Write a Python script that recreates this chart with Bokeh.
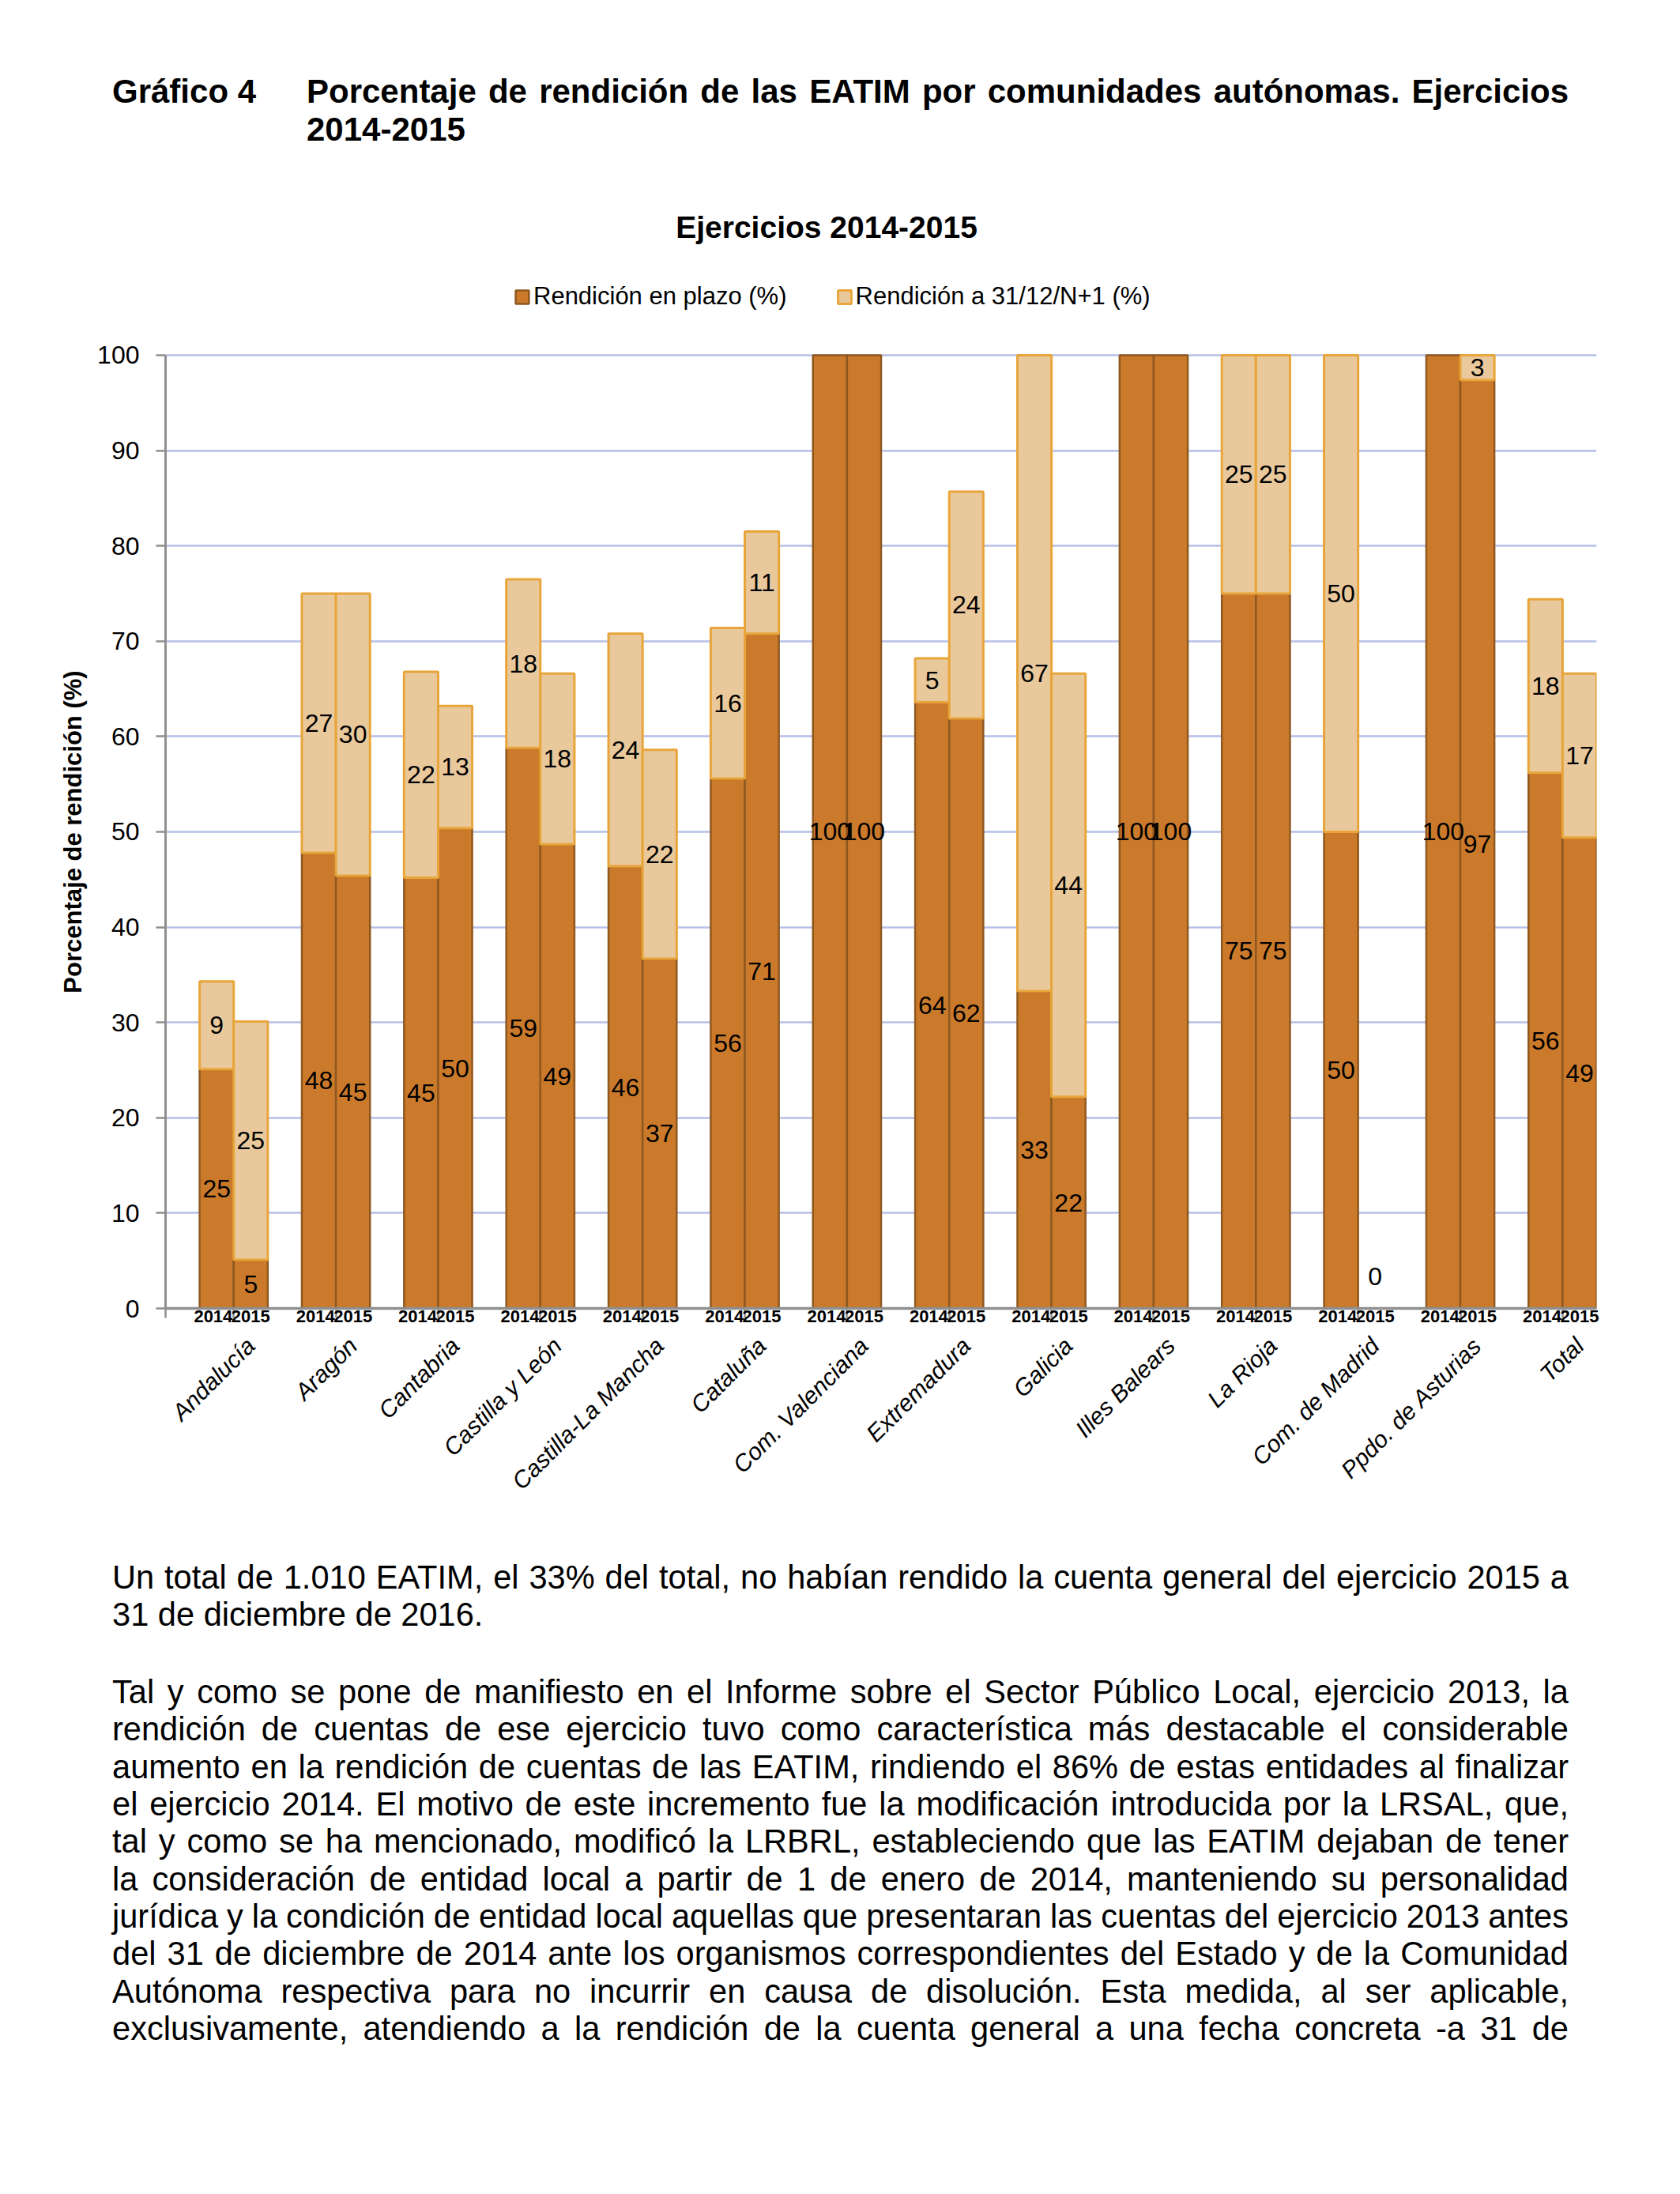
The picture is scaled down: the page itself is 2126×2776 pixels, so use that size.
import math
from bokeh.plotting import figure
from bokeh.models import (ColumnDataSource, LabelSet, Label, FixedTicker, Legend, LegendItem,
                          Div, Range1d, LinearAxis)
from bokeh.layouts import column, row
from bokeh.core.properties import value
from bokeh.embed import file_html
from bokeh.resources import INLINE

# ---------------- data ----------------
communities = ["Andalucía", "Aragón", "Cantabria", "Castilla y León", "Castilla-La Mancha",
               "Cataluña", "Com. Valenciana", "Extremadura", "Galicia", "Illes Balears",
               "La Rioja", "Com. de Madrid", "Ppdo. de Asturias", "Total"]
years = ["2014", "2015"]
plazo_2014 = [25.1, 47.8, 45.2, 58.8, 46.4, 55.6, 100, 63.6, 33.3, 100, 75, 50, 100, 56.2]
extra_2014 = [9.2, 27.2, 21.6, 17.7, 24.4, 15.8, 0, 4.6, 66.7, 0, 25, 50, 0, 18.2]
plazo_2015 = [5.1, 45.4, 50.4, 48.7, 36.7, 70.8, 100, 61.9, 22.2, 100, 75, 0, 97.4, 49.4]
extra_2015 = [25.0, 29.6, 12.8, 17.9, 21.9, 10.7, 0, 23.8, 44.4, 0, 25, 0, 2.6, 17.2]
y_ticks = [0, 10, 20, 30, 40, 50, 60, 70, 80, 90, 100]
series_names = ["Rendición en plazo (%)", "Rendición a 31/12/N+1 (%)"]

chart_title = "Ejercicios 2014-2015"
y_title = "Porcentaje de rendición (%)"
heading_label = "Gráfico 4"
heading_lines = ["Porcentaje de rendición de las EATIM por comunidades autónomas. Ejercicios",
                 "2014-2015"]
paragraphs = [
    ["Un total de 1.010 EATIM, el 33% del total, no habían rendido la cuenta general del ejercicio 2015 a",
     "31 de diciembre de 2016."],
    ["Tal y como se pone de manifiesto en el Informe sobre el Sector Público Local, ejercicio 2013, la",
     "rendición de cuentas de ese ejercicio tuvo como característica más destacable el considerable",
     "aumento en la rendición de cuentas de las EATIM, rindiendo el 86% de estas entidades al finalizar",
     "el ejercicio 2014. El motivo de este incremento fue la modificación introducida por la LRSAL, que,",
     "tal y como se ha mencionado, modificó la LRBRL, estableciendo que las EATIM dejaban de tener",
     "la consideración de entidad local a partir de 1 de enero de 2014, manteniendo su personalidad",
     "jurídica y la condición de entidad local aquellas que presentaran las cuentas del ejercicio 2013 antes",
     "del 31 de diciembre de 2014 ante los organismos correspondientes del Estado y de la Comunidad",
     "Autónoma respectiva para no incurrir en causa de disolución. Esta medida, al ser aplicable,",
     "exclusivamente, atendiendo a la rendición de la cuenta general a una fecha concreta -a 31 de"],
]
paragraph_continues = [False, True]

# ---------------- styles ----------------
SANS = "Liberation Sans"
DARK_FILL = "#CB7A2B"
DARK_LINE = "#8E5820"
LIGHT_FILL = "#E9C99C"
LIGHT_LINE = "#E8A53A"
GRID = "#B7C0E8"
AXIS = "#8F8F8F"

# ---------------- derived sources ----------------
n = len(communities)
plazo = [plazo_2014, plazo_2015]
extra = [extra_2014, extra_2015]
SLOT = 20               # each category slot (blank, 2014, 2015) is 20 x-units wide
GROUP = 3 * SLOT
YEAR_LABEL_SHIFT = [-2, 0]   # 2014 labels sit slightly left of their bar, as in the original

dark = dict(x=[], top=[])
light = dict(x=[], bottom=[], top=[])
dark_lab = dict(x=[], y=[], text=[], dy=[])
light_lab = dict(x=[], y=[], text=[])
year_ticks, year_over = [], {}
for i in range(n):
    for k in range(2):
        xc = GROUP * i + SLOT + SLOT // 2 + SLOT * k
        pv, ev = plazo[k][i], extra[k][i]
        if pv > 0:
            dark["x"].append(xc); dark["top"].append(pv)
        dark_lab["x"].append(xc); dark_lab["y"].append(pv / 2)
        dark_lab["text"].append(f"{pv:.0f}"); dark_lab["dy"].append(0 if pv > 0 else 41)
        if ev > 0:
            light["x"].append(xc); light["bottom"].append(pv); light["top"].append(pv + ev)
            light_lab["x"].append(xc); light_lab["y"].append(pv + ev / 2)
            light_lab["text"].append(f"{ev:.0f}")
        t = xc + YEAR_LABEL_SHIFT[k]
        year_ticks.append(t); year_over[t] = years[k]
cat_ticks = [GROUP * i + 2 * SLOT + SLOT // 2 for i in range(n)]
cat_over = {t: c for t, c in zip(cat_ticks, communities)}
boundary_ticks = [0] + [GROUP * i + 2 * SLOT for i in range(n)]

# ---------------- geometry ----------------
W = 2120
YLAB_W = 120
FIG_H = 1750
TOP_BORDER = 40
BOTTOM_BORDER = 295
Y_TOP = 117.33   # frame extends above 100 to hold the chart title and legend
y_range = Range1d(0, Y_TOP)

# ---------------- main figure ----------------
p = figure(width=W - YLAB_W, height=FIG_H, output_backend="svg", toolbar_location=None,
           x_range=Range1d(0, GROUP * n), y_range=y_range,
           min_border_left=209 - YLAB_W, min_border_right=100, min_border_top=TOP_BORDER,
           min_border_bottom=BOTTOM_BORDER)
p.outline_line_color = None
p.background_fill_color = "white"
p.xgrid.grid_line_color = None
p.ygrid.grid_line_color = GRID
p.ygrid.grid_line_width = 2.5

r_dark = p.vbar(x="x", top="top", bottom=0, width=SLOT, source=ColumnDataSource(dark),
                fill_color=DARK_FILL, line_color=DARK_LINE, line_width=2.5)
r_light = p.vbar(x="x", top="top", bottom="bottom", width=SLOT, source=ColumnDataSource(light),
                 fill_color=LIGHT_FILL, line_color=LIGHT_LINE, line_width=3)

lab_kw = dict(text_font=value(SANS), text_font_size="32px", text_color="black",
              text_align="center", text_baseline="middle")
p.add_layout(LabelSet(x="x", y="y", text="text", y_offset="dy",
                      source=ColumnDataSource(dark_lab), **lab_kw))
p.add_layout(LabelSet(x="x", y="y", text="text", source=ColumnDataSource(light_lab), **lab_kw))

# chart title (inside the frame, above the 100 gridline)
p.add_layout(Label(x=388, y=113.45, text=chart_title, text_align="center",
                   text_baseline="middle", text_font=SANS, text_font_style="bold",
                   text_font_size="39px", text_color="black"))

# y axis
yax = p.yaxis[0]
yax.bounds = (0, 100)
yax.ticker = FixedTicker(ticks=y_ticks)
yax.axis_line_color = AXIS
yax.axis_line_width = 3
yax.major_tick_line_color = AXIS
yax.major_tick_line_width = 2.5
yax.major_tick_in = 0
yax.major_tick_out = 12
yax.minor_tick_line_color = None
yax.major_label_standoff = 21
yax.major_label_text_font = SANS
yax.major_label_text_font_size = "32px"
yax.major_label_text_color = "black"

# x axis: years
xax = p.xaxis[0]
xax.ticker = FixedTicker(ticks=year_ticks, minor_ticks=boundary_ticks)
xax.major_label_overrides = year_over
xax.axis_line_color = AXIS
xax.axis_line_width = 3.5
xax.major_tick_line_color = None
xax.major_tick_in = 0
xax.major_tick_out = 0
xax.minor_tick_line_color = AXIS
xax.minor_tick_line_width = 2.5
xax.minor_tick_in = 0
xax.minor_tick_out = 12
xax.major_label_standoff = -10
xax.major_label_text_font = SANS
xax.major_label_text_font_style = "bold"
xax.major_label_text_font_size = "22px"
xax.major_label_text_color = "black"

# x axis: communities
cax = LinearAxis(ticker=FixedTicker(ticks=cat_ticks), major_label_overrides=cat_over,
                 major_label_orientation=math.pi / 4, axis_line_color=None,
                 major_tick_line_color=None, minor_tick_line_color=None,
                 major_tick_in=0, major_tick_out=0, major_label_standoff=22,
                 major_label_text_font=SANS, major_label_text_font_style="italic",
                 major_label_text_font_size="30px", major_label_text_color="black")
p.add_layout(cax, "below")

legend = Legend(items=[LegendItem(label=series_names[0], renderers=[r_dark]),
                       LegendItem(label=series_names[1], renderers=[r_light])],
                orientation="horizontal", location=(441, 1262),
                label_text_font=SANS, label_text_font_size="31px", label_text_color="black",
                glyph_width=21, glyph_height=21, label_standoff=4, spacing=62,
                border_line_color=None, background_fill_alpha=0, padding=0, margin=0)
p.add_layout(legend)

# ---------------- y-axis title figure (shares the y range) ----------------
q = figure(width=YLAB_W, height=FIG_H, output_backend="svg", toolbar_location=None,
           x_range=Range1d(0, YLAB_W), y_range=y_range,
           x_axis_location=None, y_axis_location=None,
           min_border_left=0, min_border_right=0, min_border_top=TOP_BORDER,
           min_border_bottom=BOTTOM_BORDER)
q.outline_line_color = None
q.grid.grid_line_color = None
q.add_layout(Label(x=92, y=50, text=y_title, angle=math.pi / 2, text_align="center",
                   text_baseline="middle", text_font=SANS, text_font_style="bold",
                   text_font_size="31px", text_color="black"))

# ---------------- text blocks ----------------
heading_html = (
    f'<div style="position:relative;width:{W}px;height:200px;font-family:\'Liberation Sans\',Arial,sans-serif;'
    'font-weight:bold;font-size:42px;line-height:48px;color:#000;">'
    f'<div style="position:absolute;left:142px;top:92px;white-space:nowrap;">{heading_label}</div>'
    f'<div style="position:absolute;left:388px;top:92px;width:1597px;text-align:justify;text-align-last:justify;">{heading_lines[0]}</div>'
    f'<div style="position:absolute;left:388px;top:140px;white-space:nowrap;">{heading_lines[1]}</div>'
    '</div>')
heading = Div(text=heading_html, width=W, height=200, margin=0)

para_html = [f'<div style="width:{W}px;padding-top:21.6px;font-family:\'Liberation Sans\',Arial,sans-serif;'
             'font-size:41.6px;line-height:47.3px;color:#000;">']
for pi, lines in enumerate(paragraphs):
    mt = 0 if pi == 0 else 51
    para_html.append(f'<div style="margin-left:142px;width:1843px;margin-top:{mt}px;">')
    for li, line in enumerate(lines):
        justify = (li < len(lines) - 1) or paragraph_continues[pi]
        if justify:
            para_html.append('<div style="text-align:justify;text-align-last:justify;'
                             f'word-spacing:-4px;height:47.3px;">{line}</div>')
        else:
            para_html.append(f'<div style="text-align:left;height:47.3px;white-space:nowrap;">{line}</div>')
    para_html.append('</div>')
para_html.append('</div>')
body = Div(text="".join(para_html), width=W, height=2776 - 8 - 200 - FIG_H, margin=0)

layout = column(heading, row(q, p, spacing=0, margin=0), body, spacing=0, margin=0)
open("out.html", "w").write(file_html(layout, INLINE))
